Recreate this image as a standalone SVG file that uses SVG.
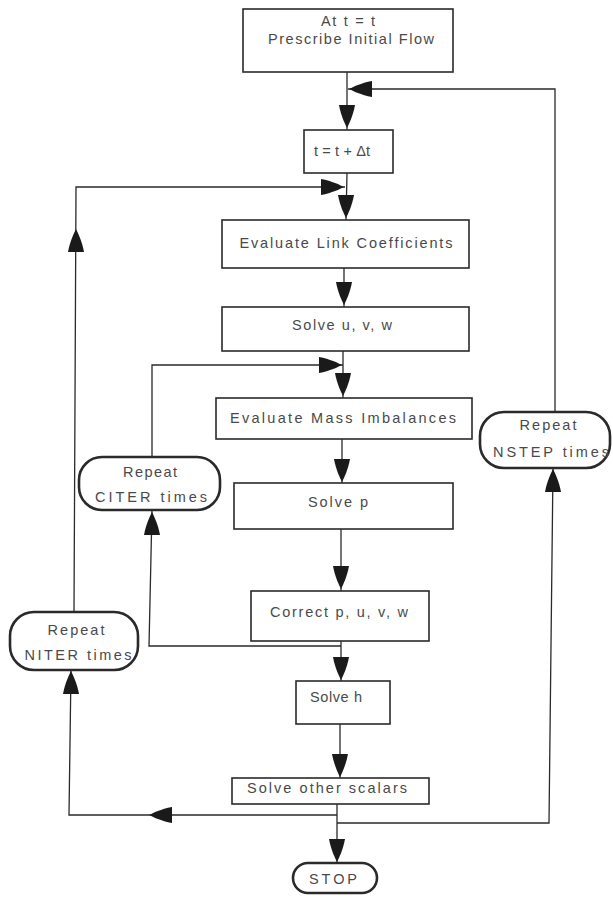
<svg xmlns="http://www.w3.org/2000/svg" xmlns:xlink="http://www.w3.org/1999/xlink" width="613" height="904" viewBox="0 0 613 904">
<style>
.box{fill:#fff;stroke:#2a2a2a;stroke-width:1.6}
.oval{fill:#fff;stroke:#2a2a2a;stroke-width:2.6}
.ln{fill:none;stroke:#2a2a2a;stroke-width:1.3}
.ah{fill:#1a1a1a}
text{font-family:"Liberation Sans","Arial",sans-serif;font-size:14.5px;fill:#4a4a4a;text-anchor:middle}
</style>
<defs>
<path id="ah" class="ah" d="M0,0 C-2,-4 -6,-12 -8,-23 L8,-23 C6,-12 2,-4 0,0 Z"/>
</defs>
<rect width="613" height="904" fill="#fff"/>
<g id="connectors">
<polyline class="ln" points="347,72 347,130"/>
<polyline class="ln" points="555,412 555,89 348,89"/>
<polyline class="ln" points="347,173 346,220"/>
<polyline class="ln" points="74,612 76,187 345,187"/>
<polyline class="ln" points="344,268 344,307"/>
<polyline class="ln" points="152,457 152,365 343,365"/>
<polyline class="ln" points="343,351 343,398"/>
<polyline class="ln" points="342,439 342,483"/>
<polyline class="ln" points="341,529 341,591"/>
<polyline class="ln" points="341,641 341,681"/>
<polyline class="ln" points="341,646 149,646 152,510"/>
<polyline class="ln" points="340,724 340,778"/>
<polyline class="ln" points="337,804 337,863"/>
<polyline class="ln" points="337,815 69,815 71,670"/>
<polyline class="ln" points="337,823 549,823 553,468"/>
<use xlink:href="#ah" transform="translate(347,128)"/>
<use xlink:href="#ah" transform="translate(349,89) rotate(90)"/>
<use xlink:href="#ah" transform="translate(346,218)"/>
<use xlink:href="#ah" transform="translate(344,187) rotate(-90)"/>
<use xlink:href="#ah" transform="translate(76,229) rotate(180)"/>
<use xlink:href="#ah" transform="translate(344,305)"/>
<use xlink:href="#ah" transform="translate(342,365) rotate(-90)"/>
<use xlink:href="#ah" transform="translate(343,396)"/>
<use xlink:href="#ah" transform="translate(342,482)"/>
<use xlink:href="#ah" transform="translate(341,589)"/>
<use xlink:href="#ah" transform="translate(341,680)"/>
<use xlink:href="#ah" transform="translate(152,512) rotate(180)"/>
<use xlink:href="#ah" transform="translate(340,777)"/>
<use xlink:href="#ah" transform="translate(337,862)"/>
<use xlink:href="#ah" transform="translate(149,815) rotate(90)"/>
<use xlink:href="#ah" transform="translate(71,671) rotate(180)"/>
<use xlink:href="#ah" transform="translate(553,469) rotate(180)"/>
</g>
<g id="n1"><rect class="box" x="243" y="9" width="210" height="63"/>
<text x="348" y="26" textLength="54" lengthAdjust="spacing">At t = t</text>
<text x="351" y="44" textLength="166" lengthAdjust="spacing">Prescribe Initial Flow</text></g>
<g id="n2"><rect class="box" x="304" y="130" width="89" height="43"/>
<text x="342" y="156" textLength="56" lengthAdjust="spacing">t = t + Δt</text></g>
<g id="n3"><rect class="box" x="222" y="220" width="247" height="48"/>
<text x="346" y="248" textLength="213" lengthAdjust="spacing">Evaluate Link Coefficients</text></g>
<g id="n4"><rect class="box" x="222" y="307" width="247" height="44"/>
<text x="342" y="330" textLength="100" lengthAdjust="spacing">Solve u, v, w</text></g>
<g id="n5"><rect class="box" x="216" y="398" width="256" height="41"/>
<text x="343" y="423" textLength="226" lengthAdjust="spacing">Evaluate Mass Imbalances</text></g>
<g id="n6"><rect class="box" x="234" y="483" width="219" height="46"/>
<text x="338" y="507" textLength="60" lengthAdjust="spacing">Solve p</text></g>
<g id="n7"><rect class="box" x="251" y="591" width="178" height="50"/>
<text x="339" y="617" textLength="138" lengthAdjust="spacing">Correct p, u, v, w</text></g>
<g id="n8"><rect class="box" x="296" y="681" width="94" height="43"/>
<text x="336" y="702" textLength="52" lengthAdjust="spacing">Solve h</text></g>
<g id="n9"><rect class="box" x="232" y="778" width="197" height="26"/>
<text x="327" y="793" textLength="160" lengthAdjust="spacing">Solve other scalars</text></g>
<g id="stop"><rect class="oval" x="293" y="863" width="84" height="30" rx="15"/>
<text x="333" y="884" textLength="48" lengthAdjust="spacing">STOP</text></g>
<g id="nstep"><rect class="oval" x="480" y="412" width="130" height="56" rx="24"/>
<text x="548" y="430" textLength="57" lengthAdjust="spacing">Repeat</text>
<text x="551" y="457" textLength="116" lengthAdjust="spacing">NSTEP times</text></g>
<g id="citer"><rect class="oval" x="79" y="457" width="141" height="53" rx="23"/>
<text x="150" y="477" textLength="54" lengthAdjust="spacing">Repeat</text>
<text x="151" y="502" textLength="112" lengthAdjust="spacing">CITER times</text></g>
<g id="niter"><rect class="oval" x="10" y="612" width="128" height="58" rx="24"/>
<text x="76" y="635" textLength="57" lengthAdjust="spacing">Repeat</text>
<text x="78" y="660" textLength="107" lengthAdjust="spacing">NITER times</text></g>
</svg>
